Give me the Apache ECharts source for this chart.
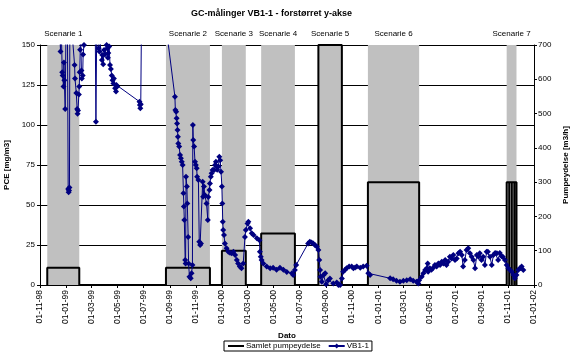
<!DOCTYPE html>
<html>
<head>
<meta charset="utf-8">
<script src="https://cdn.jsdelivr.net/npm/echarts@6/dist/echarts.min.js"></script>
<style>
html,body{margin:0;padding:0;background:#fff;}
#chart{width:575px;height:358px;}
</style>
</head>
<body>
<div id="chart"></div>
<script>
// ---- DATA ----
const baseDate = '1998-11-01'; // day 0 for day offsets below
const tickLabels = ['01-11-98','01-01-99','01-03-99','01-05-99','01-07-99','01-09-99','01-11-99','01-01-00','01-03-00','01-05-00','01-07-00','01-09-00','01-11-00','01-01-01','01-03-01','01-05-01','01-07-01','01-09-01','01-11-01','01-01-02'];

const scenarioNames = ['Scenarie 1','Scenarie 2','Scenarie 3','Scenarie 4','Scenarie 5','Scenarie 6','Scenarie 7'];
const scenarioStartDay = [17, 295, 426, 518, 652, 768, 1093];
const scenarioEndDay   = [92, 398, 482, 597, 707, 888, 1116];
const pumpRate         = [50, 50, 100, 150, 700, 300, 300];
const s7SwitchDays     = [1099, 1105, 1111];

const vbDay = [46,48,50,52,53,55,56,57,59,61,64,66,67,68,69,70,81,82,85,87,88,89,91,92,93,94,95,97,98,100,101,103,105,
129,131,133,137,139,141,145,146,148,150,152,156,158,159,160,162,164,166,168,170,172,173,176,178,179,181,233,234,235,236,238,
295,316,317,319,320,321,322,323,324,326,328,330,332,334,336,337,338,340,341,342,344,345,347,348,350,353,355,357,358,359,361,363,365,367,368,371,373,375,377,381,382,384,386,390,393,394,397,398,400,402,404,408,410,412,414,415,418,420,422,424,426,427,428,429,431,433,437,441,445,449,453,457,461,464,468,472,476,480,482,486,488,492,496,500,508,514,515,517,519,523,531,539,546,554,562,570,578,590,593,597,600,
628,632,636,640,644,648,652,654,656,657,660,664,668,670,675,679,687,695,699,703,707,710,714,718,724,730,734,738,742,750,757,765,769,773,
820,827,835,843,851,859,867,874,882,886,888,894,898,902,906,908,909,913,917,921,925,929,933,937,941,945,949,952,956,960,964,968,972,976,980,984,988,991,995,999,1003,1007,1011,1015,1019,1023,1027,1030,1034,1038,1042,1046,1049,1054,1058,1062,1066,1070,1073,1077,1081,1084,1089,1093,1097,1101,1105,1109,1112,1116,1120,1124,1128,1132];
const vbPCE = [160,146,160,133,131,124,139,128,110,165,175,60,58,59,61,175,137.5,129,120,110,107,109,119,124,133,147,160,134,129,131,144,150,170,
175,102,165,148,146,151,140.6,143.7,138,146.9,144,150,148,142,145,149,137.5,135,131,128,126,129,123,121,125,124,114.6,112.5,110.4,113,175,
162,117.7,109.4,108.3,104.2,101,96.9,92.7,88.5,86.5,81.2,79.2,77,75,57.3,49,40.6,15.6,13.5,67.7,61.5,51,30,13.5,5.2,4.2,7.3,12.5,100,90.6,86.5,77,75,72.9,67.7,65.6,27,25,26,64.6,55.2,61.5,56.2,51,40.6,55,59.4,63.5,67.7,69.8,71.9,71.9,75,77,74,72,74,80.2,78,70.8,61.5,51,39.6,34.4,31.2,26,22.9,20.8,20.2,19.8,20.8,18.7,15.6,13.5,11.5,10.4,13.5,30,34.4,38.5,39.6,35.4,32.3,31.2,29.2,28,20.8,17.7,15.6,13.5,11.5,10.4,10.8,9.6,10.8,9.6,8.1,7.3,6.2,9.4,12.5,
26,27,26.5,26,25,24,21.9,15.6,9.4,5.2,2,6.2,7.3,0.5,3,4,1,1.5,0,0,4,8.3,9.4,10.4,11.5,11.5,10.5,11,11.5,10.8,11.5,12,7.3,6.2,
4.2,3.6,2.7,2,2.7,3,3.6,2.7,2,1,3,5.2,7.3,9.4,10.4,13.5,8.3,10.4,9.6,10.8,12.5,11.5,13.5,12.5,14.6,13.5,15.6,12.5,14.6,17.7,16.5,18.7,15.6,16.5,19.8,20.8,18.7,11.5,15.6,21.9,22.9,19.8,17.7,15.6,10.4,18.7,17.7,19.8,15.6,17.7,12.5,20.8,20.8,17.7,12.5,18.7,20,19.8,15.6,20,18,17.7,15.6,12.5,10.4,9.4,8.3,6.2,4.2,6.2,9.4,10.4,11.5,9.4];

// ---- helpers ----
const DAY = 86400000;
function parseYMD(s){ const p = s.split('-').map(Number); return Date.UTC(p[0], p[1]-1, p[2]); }
const base = parseYMD(baseDate);
function dayToTime(d){ return base + d*DAY; }
function parseTick(s){ const p = s.split('-').map(Number); return Date.UTC(p[2] > 50 ? 1900 + p[2] : 2000 + p[2], p[1]-1, p[0]); }
const tickTimes = tickLabels.map(parseTick);
function fmt(v){
  const i = tickTimes.findIndex(t => Math.abs(t - v) < DAY);
  return i >= 0 ? tickLabels[i] : '';
}

const vbData = vbDay.map((d,i) => [dayToTime(d), vbPCE[i]]);

const pumpData = [];
scenarioStartDay.forEach((s,i) => {
  const e = scenarioEndDay[i], r = pumpRate[i];
  pumpData.push([dayToTime(s),0],[dayToTime(s),r]);
  if (i === 6) {
    s7SwitchDays.forEach(sd => { pumpData.push([dayToTime(sd),r],[dayToTime(sd),0],[dayToTime(sd),r]); });
  }
  pumpData.push([dayToTime(e),r],[dayToTime(e),0]);
});

const areas = scenarioNames.map((n,i) => [
  {name: n, xAxis: dayToTime(scenarioStartDay[i])},
  {xAxis: dayToTime(scenarioEndDay[i])}
]);

const FONT = 'Liberation Sans, Arial, sans-serif';
const chart = echarts.init(document.getElementById('chart'), null, {renderer:'canvas'});
chart.setOption({
  animation: false,
  backgroundColor: '#fff',
  textStyle: {fontFamily: FONT, color: '#000'},
  title: {
    text: 'GC-målinger VB1-1 - forstørret y-akse',
    left: 186, top: 4,
    textStyle: {fontSize: 9, fontWeight: 'bold', color: '#000', fontFamily: FONT}
  },
  legend: {
    data: [
      {name: 'Samlet pumpeydelse', itemStyle: {opacity: 0}},
      {name: 'VB1-1'}
    ],
    top: 341, left: 224,
    borderColor: '#000', borderWidth: 1, padding: [1, 3],
    itemWidth: 16, itemHeight: 6, itemGap: 7,
    textStyle: {fontSize: 8, color: '#000', fontFamily: FONT, padding: [0, 0, 0, -3]}
  },
  grid: {left: 40, right: 41, top: 45, bottom: 73, containLabel: false, outerBoundsMode: 'none'},
  xAxis: {
    type: 'value',
    min: tickTimes[0], max: tickTimes[tickTimes.length-1],
    name: 'Dato', nameLocation: 'middle', nameGap: 47,
    nameTextStyle: {fontSize: 8, fontWeight: 'bold', color: '#000', fontFamily: FONT},
    axisLine: {lineStyle: {color: '#000', width: 1}},
    axisTick: {show: true, customValues: tickTimes, length: 3, lineStyle: {color: '#000'}},
    axisLabel: {customValues: tickTimes, rotate: 90, fontSize: 8.5, color: '#000', fontFamily: FONT, formatter: fmt, margin: 5},
    splitLine: {show: false}
  },
  yAxis: [
    {
      type: 'value', min: 0, max: 150, interval: 25,
      name: 'PCE [mg/m3]', nameLocation: 'middle', nameGap: 24, nameRotate: 90,
      nameTextStyle: {fontSize: 8, fontWeight: 'bold', color: '#000', fontFamily: FONT},
      axisLine: {show: true, lineStyle: {color: '#000'}},
      axisTick: {show: true, length: 3, lineStyle: {color: '#000'}},
      axisLabel: {fontSize: 8, color: '#000', fontFamily: FONT, margin: 5},
      splitLine: {show: true, lineStyle: {color: '#000', width: 1}}
    },
    {
      type: 'value', min: 0, max: 700, interval: 100, position: 'right',
      name: 'Pumpeydelse [m3/h]', nameLocation: 'middle', nameGap: 25, nameRotate: 90,
      nameTextStyle: {fontSize: 8, fontWeight: 'bold', color: '#000', fontFamily: FONT},
      axisLine: {show: true, lineStyle: {color: '#000'}},
      axisTick: {show: true, length: 3, lineStyle: {color: '#000'}},
      axisLabel: {fontSize: 8, color: '#000', fontFamily: FONT, margin: 4},
      splitLine: {show: false}
    }
  ],
  series: [
    {
      name: 'scenarier', type: 'line', data: [], yAxisIndex: 1, z: 1, silent: true,
      markArea: {
        silent: true,
        itemStyle: {color: '#C0C0C0', opacity: 1},
        label: {show: true, position: 'top', distance: 7, fontSize: 8, color: '#000', fontFamily: FONT},
        data: areas
      }
    },
    {
      name: 'Samlet pumpeydelse', type: 'line', yAxisIndex: 1, data: pumpData,
      showSymbol: false, symbol: 'none', clip: false, z: 3,
      lineStyle: {color: '#000', width: 2}, itemStyle: {color: '#000'}
    },
    {
      name: 'VB1-1', type: 'line', yAxisIndex: 0, data: vbData,
      symbol: 'diamond', symbolSize: 6, showAllSymbol: true, clip: true, z: 4,
      lineStyle: {color: '#000080', width: 1}, itemStyle: {color: '#000080'}
    }
  ]
});
</script>
</body>
</html>
